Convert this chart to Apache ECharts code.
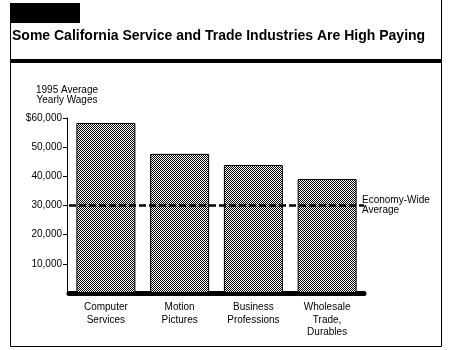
<!DOCTYPE html>
<html>
<head>
<meta charset="utf-8">
<script src="https://cdn.jsdelivr.net/npm/echarts@6/dist/echarts.min.js"></script>
<style>
html,body{margin:0;padding:0;background:#fff;}
#chart{width:451px;height:350px;}
</style>
</head>
<body>
<div id="chart"></div>
<script>
var titleText = 'Some California Service and Trade Industries Are High Paying';
var categories = ['Computer\nServices', 'Motion\nPictures', 'Business\nProfessions', 'Wholesale\nTrade,\nDurables'];
var wages = [58300, 47700, 43900, 39100];
var economyWideAverage = 30000;
var economyLabel = 'Economy-Wide\nAverage';
var yTickValues = [10000, 20000, 30000, 40000, 50000, 60000];
var yTickLabels = ['10,000', '20,000', '30,000', '40,000', '50,000', '$60,000'];
var yAxisTitle = '1995 Average\nYearly Wages';

// stipple pattern
var pc = document.createElement('canvas');
pc.width = 2; pc.height = 2;
var pctx = pc.getContext('2d');
pctx.fillStyle = '#fff'; pctx.fillRect(0,0,2,2);
pctx.fillStyle = '#000'; pctx.fillRect(0,0,1,1); pctx.fillRect(1,1,1,1);

var font = 'Liberation Sans';
var chart = echarts.init(document.getElementById('chart'), null, {renderer:'canvas'});
chart.setOption({
  animation: false,
  backgroundColor: '#fff',
  textStyle: {fontFamily: font, color: '#000'},
  graphic: [
    {type:'rect', shape:{x:10, y:3, width:70, height:20}, style:{fill:'#000'}},
    {type:'rect', shape:{x:10, y:59, width:431, height:4}, style:{fill:'#000'}},
    {type:'polyline', shape:{points:[[10.5,3],[10.5,346.5],[441.5,346.5],[441.5,0]]}, style:{stroke:'#000', lineWidth:1, fill:null}},
    {type:'text', x:12, y:29, style:{text:titleText, font:'bold 14px "Liberation Sans"', fill:'#000', textVerticalAlign:'top'}}
  ],
  grid: {left:69, right:87, top:118, bottom:57, containLabel:false},
  xAxis: {
    type:'category', data:categories, offset:2,
    axisLine:{lineStyle:{color:'#000', width:5}},
    axisTick:{show:false},
    axisLabel:{color:'#000', fontSize:10, fontFamily:font, margin:6, lineHeight:12.5, interval:0}
  },
  yAxis: {
    type:'value', min:0, max:60000, interval:10000, offset:2,
    name: yAxisTitle, nameLocation:'end', nameGap:13,
    nameTextStyle:{color:'#000', fontSize:10, fontFamily:font, align:'center', lineHeight:10},
    axisLine:{show:true, lineStyle:{color:'#000', width:1}},
    axisTick:{show:true, length:4, lineStyle:{color:'#000'}, customValues: yTickValues},
    axisLabel:{color:'#000', fontSize:10, fontFamily:font, margin:5, customValues: yTickValues,
      formatter:function(v){ var i = yTickValues.indexOf(v); return i>=0 ? yTickLabels[i] : ''; }},
    splitLine:{show:false}
  },
  series: [{
    type:'bar', data:wages, barCategoryGap:'20%',
    itemStyle:{color:{image:pc, repeat:'repeat'}, borderColor:'#000', borderWidth:1},
    markLine:{
      silent:true, symbol:'none',
      lineStyle:{color:'#000', width:2.5, type:[7,3]},
      label:{show:true, position:'end', formatter:economyLabel, color:'#000', fontSize:10, fontFamily:font, distance:-2, lineHeight:10},
      data:[{yAxis:economyWideAverage}]
    }
  }]
});
</script>
</body>
</html>
